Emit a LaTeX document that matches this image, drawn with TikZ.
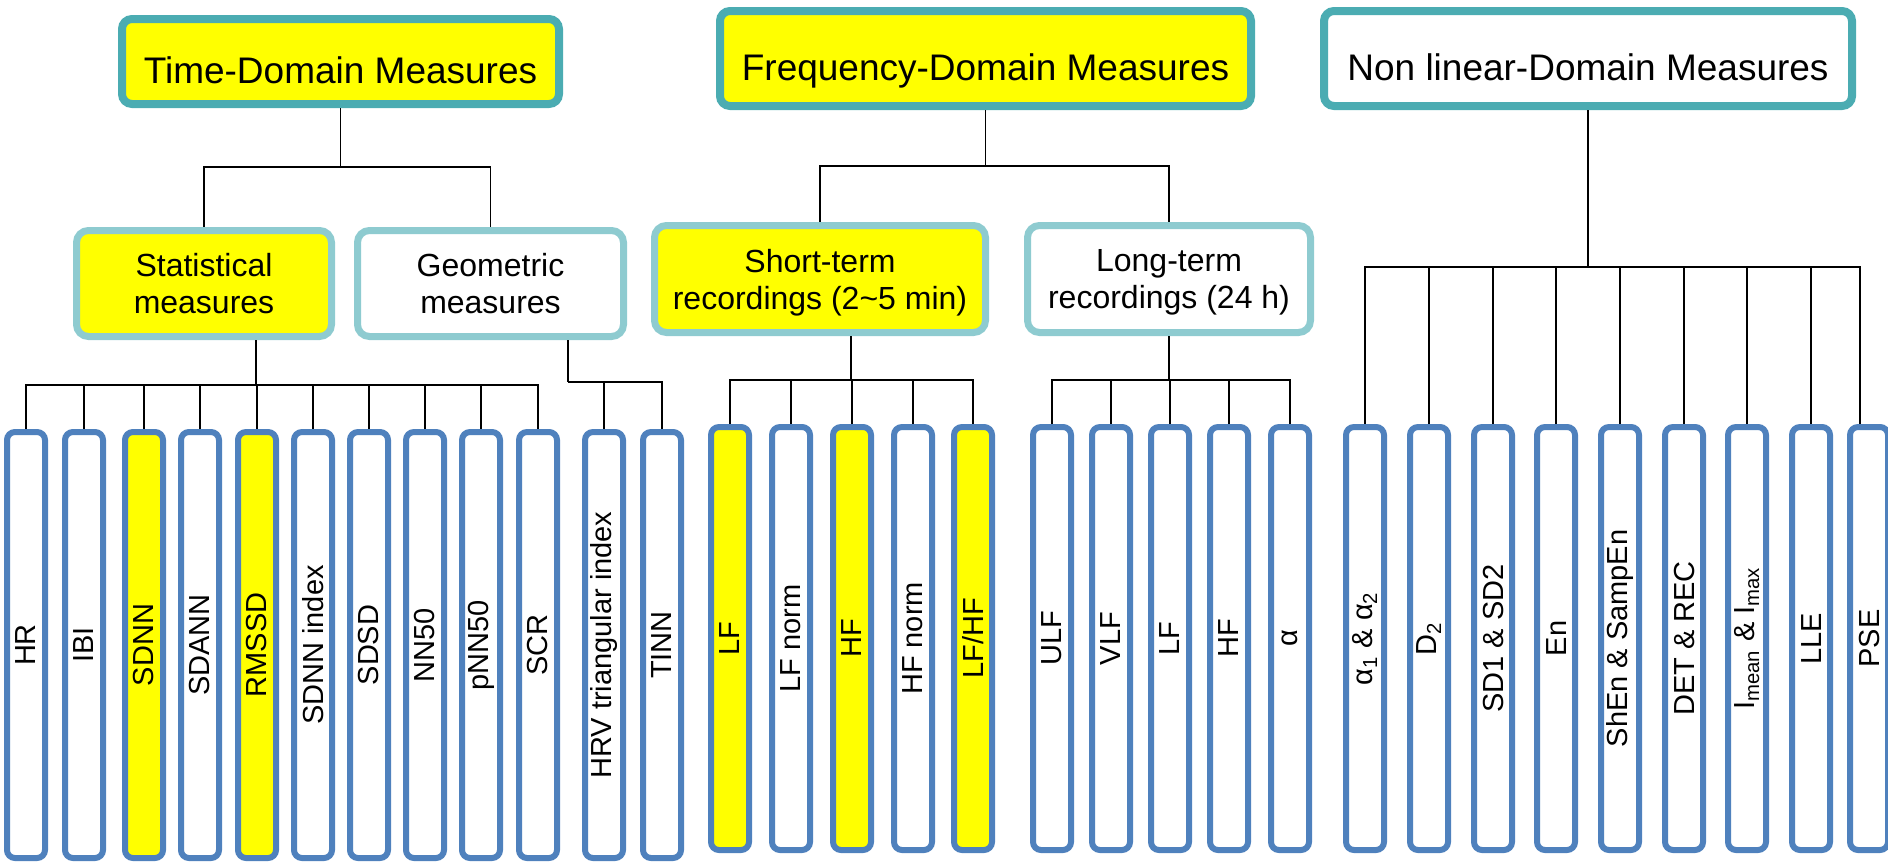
\documentclass[tikz,border=0pt]{standalone}
\usepackage{fontspec}
\setmainfont{Liberation Sans}
\usepackage{graphicx}
\usetikzlibrary{positioning}

\definecolor{topline}{RGB}{75,172,178}
\definecolor{subline}{RGB}{142,203,208}
\definecolor{leafline}{RGB}{79,129,189}
\definecolor{hilite}{RGB}{255,255,0}

\begin{document}
\begin{tikzpicture}[x=0.5pt, y=-0.5pt,
    topbox/.style={draw=topline, line width=4pt, rounded corners=5pt, inner sep=0pt,
      minimum height=47.5pt, text height=21.7pt, text depth=0pt,
      font=\fontsize{18.5pt}{22pt}\selectfont},
    subbox/.style={draw=subline, line width=3.5pt, rounded corners=6pt, inner sep=0pt,
      minimum height=53.5pt, align=center, text depth=0pt,
      font=\fontsize{16pt}{18.5pt}\selectfont},
    leaf/.style={draw=leafline, line width=3pt, rounded corners=4pt, inner sep=0pt,
      minimum width=19pt, minimum height=211.5pt,
      font=\fontsize{14.5pt}{17pt}\selectfont},
    link/.style={draw=black, line width=0.75pt}]

  \useasboundingbox (0,0) rectangle (1888,862);

  \def\ta{645}
  \def\fa{638.5}

  % Domains
  \node[topbox, fill=hilite, minimum width=218.5pt, minimum height=42.5pt] (time) at (340.5,61.5) {Time-Domain Measures};
  \node[topbox, fill=hilite, minimum width=265.5pt] (freq) at (985.5,58.5) {Frequency-Domain Measures};
  \node[topbox, fill=white, minimum width=264pt] (nonlin) at (1588,58.5) {Non linear-Domain Measures};

  % Sub-groups
  \node[subbox, fill=hilite, minimum width=127.5pt, minimum height=53pt] (stat) at (204,283.5) {Statistical\\measures};
  \node[subbox, fill=white, minimum width=133pt, minimum height=53pt] (geom) at (490.5,283.5) {Geometric\\measures};
  \node[subbox, fill=hilite, minimum width=165.5pt] (short) at (820,279) {Short-term\\recordings (2\textasciitilde5 min)};
  \node[subbox, fill=white, minimum width=141.5pt] (long) at (1169,279) {Long-term\\recordings (24 h)};

  % Leaves
  \foreach \lx/\lname/\ltext/\lfill in {26/hr/HR/white, 84/ibi/IBI/white, 144/sdnn/SDNN/hilite,
      200/sdann/SDANN/white, 257/rmssd/RMSSD/hilite, 313/sdnnidx/SDNN index/white,
      369/sdsd/SDSD/white, 425/nn50/NN50/white, 481/pnn50/pNN50/white, 538/scr/SCR/white,
      604/hrvti/HRV triangular index/white, 662/tinn/TINN/white}
    \node[leaf, fill=\lfill, minimum height=213pt] (\lname) at (\lx,\ta) {\rotatebox{90}{\ltext}};

  \foreach \lx/\lname/\ltext/\lfill in {730/lfs/LF/hilite, 791/lfns/LF norm/white, 852/hfs/HF/hilite,
      913/hfns/HF norm/white, 973/ratio/{LF/HF}/hilite,
      1052/ulf/ULF/white, 1111/vlf/VLF/white, 1170/lfl/LF/white, 1229/hfl/HF/white, 1290/alpha/α/white,
      1365/a12/{α\textsubscript{1} \& α\textsubscript{2}}/white, 1429/d2/{D\textsubscript{2}}/white,
      1493/sd12/SD1 \& SD2/white, 1556/en/En/white, 1620/shen/ShEn \& SampEn/white,
      1684/detrec/DET \& REC/white, 1747/imm/{I\textsubscript{mean} \& I\textsubscript{max}}/white,
      1811/lle/LLE/white, 1869/pse/PSE/white}
    \node[leaf, fill=\lfill] (\lname) at (\lx,\fa) {\rotatebox{90}{\ltext}};

  % Links
  \coordinate (jT) at (time.south |- 0,167);
  \coordinate (jF) at (freq.south |- 0,166);
  \coordinate (jN) at (nonlin.south |- 0,267);
  \coordinate (jS) at (256,385);
  \coordinate (jG) at (568,382);
  \coordinate (jSh) at (851,380);
  \coordinate (jL) at (1169,380);

  \draw[link] (time.south) -- (jT);
  \draw[link] (jT) -| (stat.north);
  \draw[link] (jT) -| (geom.north);
  \draw[link] (freq.south) -- (jF);
  \draw[link] (jF) -| (short.north);
  \draw[link] (jF) -| (long.north);
  \draw[link] (nonlin.south) -- (jN);

  \draw[link] (stat.south -| jS) -- (jS);
  \foreach \n in {hr,ibi,sdnn,sdann,rmssd,sdnnidx,sdsd,nn50,pnn50,scr}
    \draw[link] (jS) -| (\n.north);
  \draw[link] (geom.south -| jG) -- (jG);
  \foreach \n in {hrvti,tinn}
    \draw[link] (jG) -| (\n.north);
  \draw[link] (short.south -| jSh) -- (jSh);
  \foreach \n in {lfs,lfns,hfs,hfns,ratio}
    \draw[link] (jSh) -| (\n.north);
  \draw[link] (long.south -| jL) -- (jL);
  \foreach \n in {ulf,vlf,lfl,hfl,alpha}
    \draw[link] (jL) -| (\n.north);
  \foreach \n in {a12,d2,sd12,en,shen,detrec,imm,lle}
    \draw[link] (jN) -| (\n.north);
  \draw[link] (jN) -| ([xshift=-4.5pt]pse.north);
\end{tikzpicture}
\end{document}
